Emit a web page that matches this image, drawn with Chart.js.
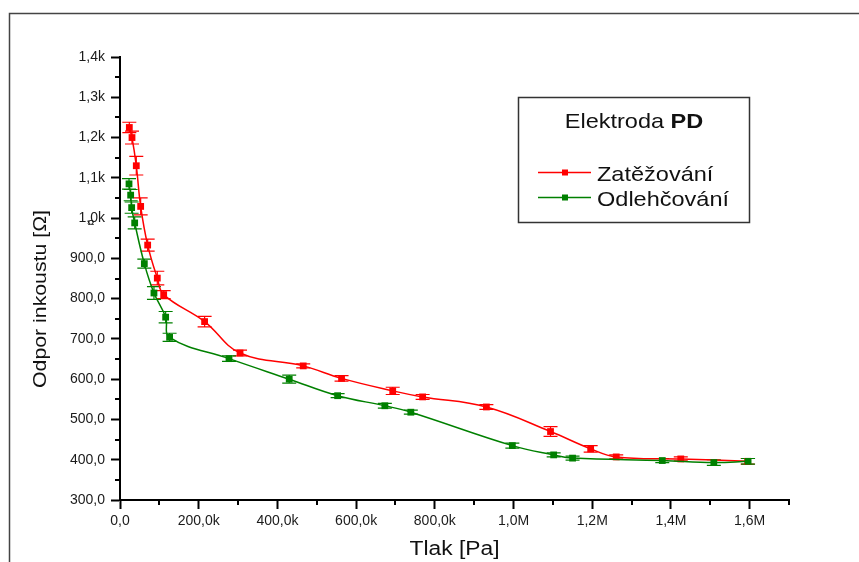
<!DOCTYPE html>
<html>
<head>
<meta charset="utf-8">
<script src="https://cdn.jsdelivr.net/npm/chart.js@4/dist/chart.umd.min.js"></script>
<style>
  html, body { margin: 0; padding: 0; background: #fff; }
  canvas { display: block; }
</style>
</head>
<body>
<canvas id="graf" width="859" height="562"></canvas>
<script>
// Zatěžování - tlak [Pa], odpor [Ω], chyba [Ω]
const tlakZat = [23700, 30500, 41400, 52500, 70300, 94800, 111000, 215000, 305000, 465600, 563000, 693000, 769000, 931000, 1094000, 1196000, 1261000, 1425000, 1595000];
const odporZat = [1225, 1200, 1130, 1029, 933, 851, 810, 743, 665, 633, 602, 571, 556, 531, 470, 427, 407, 402, 396];
const chybaZat = [13, 16, 23, 21, 15, 17, 10, 13, 7, 5, 7, 9, 6, 6, 12, 8, 5, 5, 7];

// Odlehčování
const tlakOdl = [22900, 27100, 29600, 37300, 61800, 86300, 116000, 126000, 277000, 430000, 553000, 673000, 739000, 997000, 1102000, 1150000, 1378000, 1509000, 1596000];
const odporOdl = [1085, 1057, 1026, 988, 887, 814, 754, 704, 651, 600, 559, 534, 518, 435, 412, 404, 398, 393, 396];
const chybaOdl = [13, 14, 14, 15, 11, 16, 14, 10, 7, 10, 5, 6, 5, 6, 5, 5, 5, 7, 7];

// popisky os
const xTicks = [0, 200000, 400000, 600000, 800000, 1000000, 1200000, 1400000, 1600000];
const xTickLabels = ["0,0", "200,0k", "400,0k", "600,0k", "800,0k", "1,0M", "1,2M", "1,4M", "1,6M"];
const xMinor = [100000, 300000, 500000, 700000, 900000, 1100000, 1300000, 1500000, 1700000];
const yTicks = [300, 400, 500, 600, 700, 800, 900, 1000, 1100, 1200, 1300, 1400];
const yTickLabels = ["300,0", "400,0", "500,0", "600,0", "700,0", "800,0", "900,0", "1,0k", "1,1k", "1,2k", "1,3k", "1,4k"];
const yMinor = [350, 450, 550, 650, 750, 850, 950, 1050, 1150, 1250, 1350];

const PISMO = "'Liberation Sans', Arial, sans-serif";

// text roztažený do šířky
function natazenyText(ctx, text, x, y, sx, uhel) {
  ctx.save();
  ctx.translate(x, y);
  if (uhel) ctx.rotate(uhel);
  ctx.scale(sx, 1);
  ctx.fillText(text, 0, 0);
  ctx.restore();
}

// rámeček kolem celého obrázku
const ramec = {
  id: "ramec",
  beforeDraw(chart) {
    const ctx = chart.ctx;
    ctx.save();
    ctx.strokeStyle = "#444";
    ctx.lineWidth = 1.5;
    ctx.beginPath();
    ctx.moveTo(9.5, chart.height);
    ctx.lineTo(9.5, 13.5);
    ctx.lineTo(chart.width, 13.5);
    ctx.stroke();
    ctx.restore();
  },
};

// chybové úsečky
const chybovePruhy = {
  id: "chybovePruhy",
  beforeDatasetsDraw(chart) {
    const { ctx, scales: { x, y } } = chart;
    chart.data.datasets.forEach((ds) => {
      ctx.save();
      ctx.strokeStyle = ds.borderColor;
      ctx.lineWidth = 1.2;
      ds.data.forEach((p, i) => {
        const px = x.getPixelForValue(p.x);
        const horni = y.getPixelForValue(p.y + ds.chyby[i]);
        const dolni = y.getPixelForValue(p.y - ds.chyby[i]);
        ctx.beginPath();
        ctx.moveTo(px, horni);
        ctx.lineTo(px, dolni);
        ctx.moveTo(px - 7, horni);
        ctx.lineTo(px + 7, horni);
        ctx.moveTo(px - 7, dolni);
        ctx.lineTo(px + 7, dolni);
        ctx.stroke();
      });
      ctx.restore();
    });
  },
};

// vedlejší značky na osách, názvy os a legenda
const popisky = {
  id: "popisky",
  afterDraw(chart) {
    const { ctx, scales: { x, y } } = chart;
    ctx.save();

    // vedlejší značky
    ctx.strokeStyle = "#000";
    ctx.lineWidth = 2;
    ctx.beginPath();
    xMinor.forEach((v) => {
      const px = Math.round(x.getPixelForValue(v));
      ctx.moveTo(px, x.top);
      ctx.lineTo(px, x.top + 5);
    });
    yMinor.forEach((v) => {
      const py = Math.round(y.getPixelForValue(v));
      ctx.moveTo(y.right - 5, py);
      ctx.lineTo(y.right, py);
    });
    ctx.stroke();

    // názvy os
    ctx.fillStyle = "#111";
    ctx.textAlign = "center";
    ctx.textBaseline = "middle";
    ctx.font = "20px " + PISMO;
    natazenyText(ctx, "Tlak [Pa]", (x.left + x.right) / 2, 549, 1.14);
    ctx.font = "19px " + PISMO;
    natazenyText(ctx, "Odpor inkoustu [Ω]", 41, 299, 1.12, -Math.PI / 2);

    ctx.font = "bold 8px " + PISMO;
    ctx.fillText("Ω", 91, 223);

    // legenda
    ctx.strokeStyle = "#333";
    ctx.lineWidth = 1.5;
    ctx.strokeRect(518.5, 97.5, 231, 125);

    const sx = 1.12;
    ctx.textAlign = "left";
    ctx.textBaseline = "alphabetic";
    ctx.font = "21px " + PISMO;
    const w1 = ctx.measureText("Elektroda ").width;
    ctx.font = "bold 21px " + PISMO;
    const w2 = ctx.measureText("PD").width;
    const start = 634 - ((w1 + w2) * sx) / 2;
    ctx.font = "21px " + PISMO;
    natazenyText(ctx, "Elektroda ", start, 128, sx);
    ctx.font = "bold 21px " + PISMO;
    natazenyText(ctx, "PD", start + w1 * sx, 128, sx);

    ctx.font = "21px " + PISMO;
    chart.data.datasets.forEach((ds, i) => {
      const ly = 172.5 + i * 25;
      ctx.strokeStyle = ds.borderColor;
      ctx.lineWidth = 1.5;
      ctx.beginPath();
      ctx.moveTo(538, ly);
      ctx.lineTo(591, ly);
      ctx.stroke();
      ctx.fillStyle = ds.backgroundColor;
      ctx.fillRect(562, ly - 3, 6, 6);
      ctx.fillStyle = "#111";
      natazenyText(ctx, ds.label, 597, ly + 8, sx);
    });

    ctx.restore();
  },
};

const ctx = document.getElementById("graf").getContext("2d");
new Chart(ctx, {
  type: "line",
  data: {
    datasets: [
      {
        label: "Zatěžování",
        data: tlakZat.map((t, i) => ({ x: t, y: odporZat[i] })),
        chyby: chybaZat,
        borderColor: "#ff0000",
        backgroundColor: "#ff0000",
        borderWidth: 1.5,
        pointStyle: "rect",
        pointRadius: 4.8,
        pointBorderWidth: 0,
        tension: 0.4,
        order: 1,
      },
      {
        label: "Odlehčování",
        data: tlakOdl.map((t, i) => ({ x: t, y: odporOdl[i] })),
        chyby: chybaOdl,
        borderColor: "#008000",
        backgroundColor: "#008000",
        borderWidth: 1.5,
        pointStyle: "rect",
        pointRadius: 4.8,
        pointBorderWidth: 0,
        tension: 0.4,
        order: 0,
      },
    ],
  },
  options: {
    responsive: false,
    animation: false,
    layout: { padding: { top: 57, right: 70, bottom: 0, left: 0 } },
    plugins: {
      legend: { display: false },
      tooltip: { enabled: false },
    },
    scales: {
      x: {
        type: "linear",
        min: 0,
        max: 1700000,
        afterBuildTicks: (scale) => {
          scale.ticks = xTicks.map((v) => ({ value: v }));
        },
        afterFit: (scale) => {
          scale.height = 62;
        },
        ticks: {
          callback: (v) => xTickLabels[xTicks.indexOf(v)],
          font: { family: PISMO, size: 14 },
          color: "#1a1a1a",
          padding: 4,
          maxRotation: 0,
          autoSkip: false,
        },
        grid: { drawOnChartArea: false, tickLength: 9, tickWidth: 2, tickColor: "#000" },
        border: { color: "#000", width: 2 },
      },
      y: {
        min: 300,
        max: 1400,
        afterBuildTicks: (scale) => {
          scale.ticks = yTicks.map((v) => ({ value: v }));
        },
        afterFit: (scale) => {
          scale.width = 120;
        },
        ticks: {
          callback: (v) => yTickLabels[yTicks.indexOf(v)],
          font: { family: PISMO, size: 14 },
          color: "#1a1a1a",
          padding: 6,
          autoSkip: false,
        },
        grid: { drawOnChartArea: false, tickLength: 9, tickWidth: 2, tickColor: "#000" },
        border: { color: "#000", width: 2 },
      },
    },
  },
  plugins: [ramec, chybovePruhy, popisky],
});
</script>
</body>
</html>
